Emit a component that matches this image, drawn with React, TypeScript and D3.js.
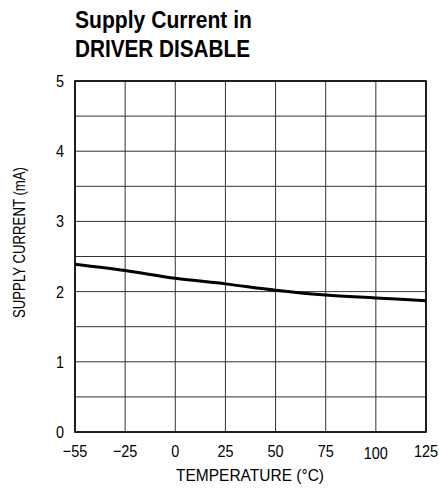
import React from "react";
import * as d3 from "d3";

const temps = [-55, -25, 0, 25, 50, 75, 100, 125];
const current = [2.39, 2.3, 2.19, 2.11, 2.02, 1.95, 1.91, 1.87];
const xTicks = [-55, -25, 0, 25, 50, 75, 100, 125];
const xTickLabels = ["\u221255", "\u221225", "0", "25", "50", "75", "100", "125"];
const yTicks = [0, 1, 2, 3, 4, 5];
const yGrid = [0, 0.5, 1, 1.5, 2, 2.5, 3, 3.5, 4, 4.5, 5];

const W = 439, H = 491;
const L = 75, R = 426, T = 81, B = 432;
const font = "'Liberation Sans', Arial, sans-serif";
const SX = 0.85;

function NText({ x, y, size, anchor = "start", bold = false, children }: any) {
  return (
    <text
      transform={`translate(${x},${y}) scale(${SX},1)`}
      fontSize={size}
      textAnchor={anchor}
      fontWeight={bold ? "bold" : "normal"}
    >
      {children}
    </text>
  );
}

export default function App() {
  const colW = (R - L) / 7;
  const x = d3.scaleLinear().domain([-55, -25, 125]).range([L, L + colW, R]);
  const y = d3.scaleLinear().domain([0, 5]).range([B, T]);
  const line = d3.line<number>().x((_, i) => x(temps[i])).y((d) => y(d)).curve(d3.curveMonotoneX);
  return (
    <svg width={W} height={H} style={{ position: "absolute", left: 0, top: 0 }} fontFamily={font}>
      <rect width={W} height={H} fill="#fff" />
      <text x={75} y={27.5} fontSize={23} fontWeight="bold" textLength={177} lengthAdjust="spacingAndGlyphs">Supply Current in</text>
      <text x={75} y={57} fontSize={23} fontWeight="bold" textLength={175} lengthAdjust="spacingAndGlyphs">DRIVER DISABLE</text>
      {yGrid.map((v) => (
        <line key={"h" + v} x1={L} x2={R} y1={y(v)} y2={y(v)} stroke="#333" strokeWidth={1} />
      ))}
      {xTicks.map((v) => (
        <line key={"v" + v} x1={x(v)} x2={x(v)} y1={T} y2={B} stroke="#333" strokeWidth={1} />
      ))}
      <rect x={L} y={T} width={R - L} height={B - T} fill="none" stroke="#000" strokeWidth={1.6} />
      <path d={line(current) || ""} fill="none" stroke="#000" strokeWidth={3} />
      {yTicks.map((v) => (
        <NText key={"yl" + v} x={64} y={y(v) + 6} size={17} anchor="end">{v}</NText>
      ))}
      {xTicks.map((v, i) => (
        <NText key={"xl" + v} x={x(v)} y={457 + (v === 100 ? 1.5 : 0)} size={17} anchor="middle">{xTickLabels[i]}</NText>
      ))}
      <text x={176} y={481} fontSize={17} textLength={148} lengthAdjust="spacingAndGlyphs">TEMPERATURE (°C)</text>
      <text transform={`translate(25,318) rotate(-90)`} fontSize={17} textLength={151} lengthAdjust="spacingAndGlyphs">SUPPLY CURRENT (mA)</text>
    </svg>
  );
}
